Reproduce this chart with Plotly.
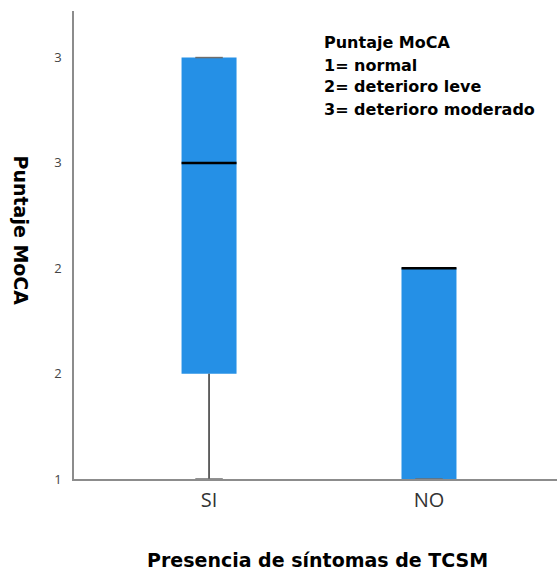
import plotly.graph_objects as go

# ---- data ----
categories = ["SI", "NO"]
q1 = [1.5, 1.0]
median = [2.5, 2.0]
q3 = [3.0, 2.0]
whisker_low = [1.0, 1.0]
whisker_high = [3.0, 2.0]

y_tickvals = [1, 1.5, 2, 2.5, 3]
y_ticktext = ["1", "2", "2", "3", "3"]

legend_lines = ["Puntaje MoCA", "1= normal", "2= deterioro leve", "3= deterioro moderado"]
x_title = "Presencia de síntomas de TCSM"
y_title = "Puntaje MoCA"

# ---- style ----
BOX_W = 0.25
CAP_W = 0.125
BOX_COLOR = "#2590e6"
W, H = 557, 571
ML, MR, MT, MB = 74, 0, 11, 92
PW = W - ML - MR
PH = H - MT - MB

def px_x(px):
    return (px - ML) / PW

def px_y(py):
    return (H - MB - py) / PH

xpos = list(range(len(categories)))

fig = go.Figure()

# boxes
fig.add_trace(go.Bar(
    x=xpos, y=[b - a for a, b in zip(q1, q3)], base=q1, width=BOX_W,
    marker=dict(color=BOX_COLOR, line=dict(width=0)),
    hoverinfo="skip", showlegend=False,
))

for i in xpos:
    # whiskers
    fig.add_trace(go.Scatter(
        x=[i, i, None, i, i],
        y=[whisker_low[i], q1[i], None, q3[i], whisker_high[i]],
        mode="lines", line=dict(color="#333333", width=1.5),
        hoverinfo="skip", showlegend=False, cliponaxis=False,
    ))
    # caps
    fig.add_trace(go.Scatter(
        x=[i - CAP_W / 2, i + CAP_W / 2, None, i - CAP_W / 2, i + CAP_W / 2],
        y=[whisker_low[i], whisker_low[i], None, whisker_high[i], whisker_high[i]],
        mode="lines", line=dict(color="#6e6e6e", width=1.5),
        hoverinfo="skip", showlegend=False, cliponaxis=False,
    ))
    # median
    fig.add_trace(go.Scatter(
        x=[i - BOX_W / 2, i + BOX_W / 2],
        y=[median[i], median[i]],
        mode="lines", line=dict(color="#000000", width=2.5),
        hoverinfo="skip", showlegend=False, cliponaxis=False,
    ))

annotations = []
for txt, py in zip(legend_lines, [43, 65, 87, 109]):
    annotations.append(dict(
        text="<b>%s</b>" % txt, xref="paper", yref="paper",
        x=px_x(322), y=px_y(py), xanchor="left", yanchor="middle",
        showarrow=False, font=dict(family="DejaVu Sans", size=16, color="#000000"),
    ))
annotations.append(dict(
    text="<b>%s</b>" % y_title, xref="paper", yref="paper",
    x=px_x(20.5), y=px_y(230), xanchor="center", yanchor="middle",
    textangle=90, showarrow=False,
    font=dict(family="DejaVu Sans", size=19, color="#000000"),
))
annotations.append(dict(
    text="<b>%s</b>" % x_title, xref="paper", yref="paper",
    x=px_x(317.5), y=px_y(560), xanchor="center", yanchor="middle",
    showarrow=False, font=dict(family="DejaVu Sans", size=19, color="#000000"),
))

fig.update_layout(
    width=W, height=H,
    margin=dict(l=ML, r=MR, t=MT, b=MB),
    paper_bgcolor="white", plot_bgcolor="white",
    showlegend=False,
    xaxis=dict(
        range=[-0.614, 1.582], tickvals=xpos, ticktext=categories,
        showgrid=False, zeroline=False, ticks="",
        showline=True, linecolor="#8c8c8c", linewidth=1.5,
        tickfont=dict(family="Open Sans", size=20, color="#333333"),
        ticklabelstandoff=2,
    ),
    yaxis=dict(
        range=[1, 3.221], tickvals=y_tickvals, ticktext=y_ticktext,
        showgrid=False, zeroline=False, ticks="",
        showline=True, linecolor="#8c8c8c", linewidth=1.5,
        tickfont=dict(family="Open Sans", size=13, color="#444444"),
        ticklabelstandoff=8,
    ),
    annotations=annotations,
)

fig.write_html(
    "out.html",
    config={"displayModeBar": False},
    post_script="document.body.style.margin='0';document.body.style.overflow='hidden';",
)
